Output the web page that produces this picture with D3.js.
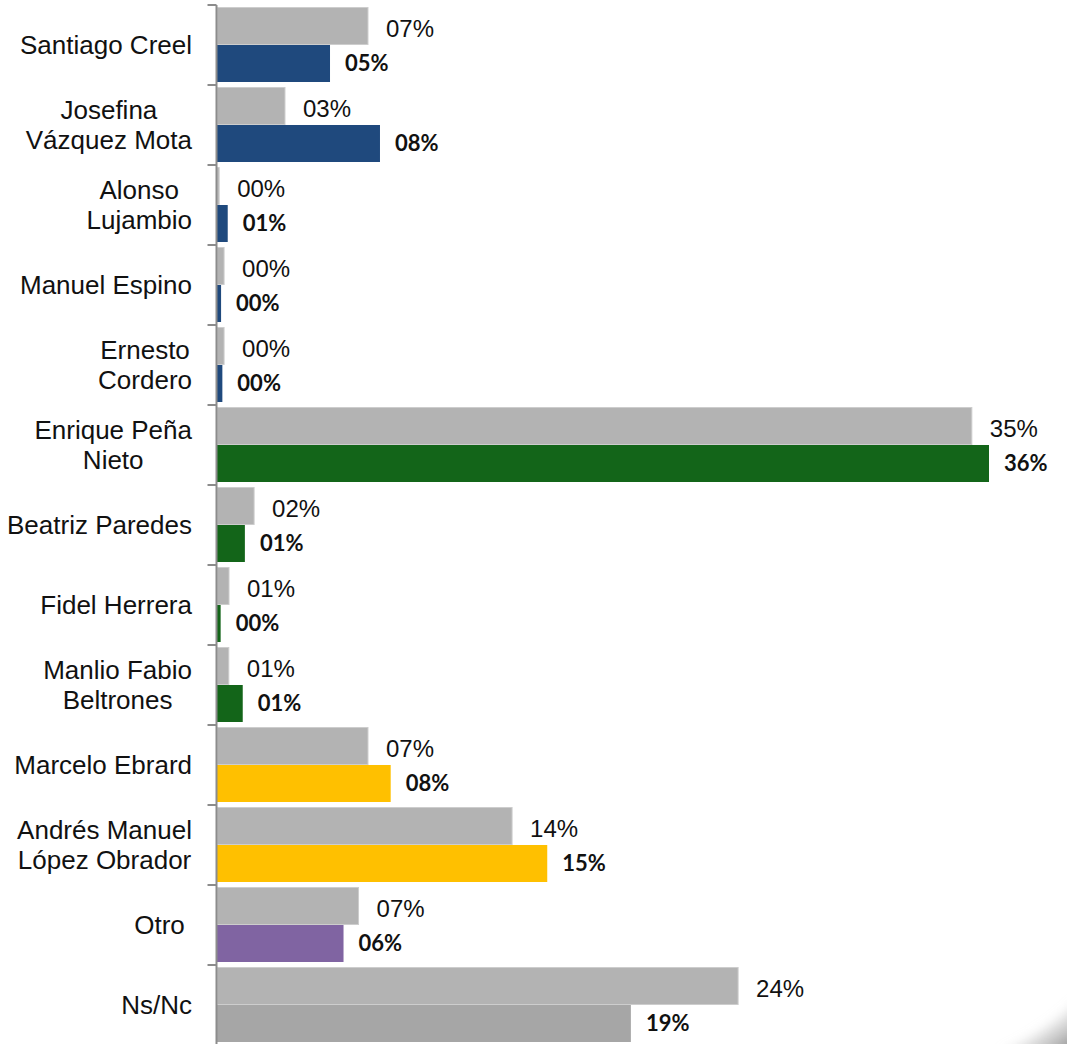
<!DOCTYPE html>
<html>
<head>
<meta charset="utf-8">
<script src="https://cdn.jsdelivr.net/npm/d3@7"></script>
<style>
  html, body { margin: 0; padding: 0; background: #fff; }
  svg { display: block; }
</style>
</head>
<body>
<svg id="chart" width="1067" height="1044"></svg>
<script>
// ---- data ----
const categories = [
  ["Santiago Creel"],
  ["Josefina", "Vázquez Mota"],
  ["Alonso", "Lujambio"],
  ["Manuel Espino"],
  ["Ernesto", "Cordero"],
  ["Enrique Peña", "Nieto"],
  ["Beatriz Paredes"],
  ["Fidel Herrera"],
  ["Manlio Fabio", "Beltrones"],
  ["Marcelo Ebrard"],
  ["Andrés Manuel", "López Obrador"],
  ["Otro "],
  ["Ns/Nc"]
];
const previousValues = [7.04, 3.17, 0.1, 0.33, 0.33, 35.2, 1.73, 0.56, 0.55, 7.04, 13.76, 6.6, 24.3];
const currentValues  = [5.27, 7.6, 0.5, 0.19, 0.25, 36.0, 1.3, 0.17, 1.2, 8.1, 15.4, 5.9, 19.3];
const currentColors  = ["#1f497d", "#1f497d", "#1f497d", "#1f497d", "#1f497d",
                        "#136519", "#136519", "#136519", "#136519",
                        "#ffc000", "#ffc000", "#8064a2", "#a6a6a6"];
const previousColor = "#b3b3b3";

// ---- layout ----
const svg = d3.select("#chart");
const axisX = 217;
const topY = 5, bandH = 80;

const y = d3.scaleBand()
  .domain(d3.range(categories.length))
  .range([topY, topY + bandH * categories.length])
  .paddingInner(0).paddingOuter(0);

const x = d3.scaleLinear().domain([0, 36]).range([axisX, 989]);

const fmt = v => d3.format("02d")(Math.round(v)) + "%";

// subtle page-curl shadow in the bottom-right corner
const defs = svg.append("defs");
defs.append("filter").attr("id", "blur")
  .attr("x", "-50%").attr("y", "-50%").attr("width", "200%").attr("height", "200%")
  .append("feGaussianBlur").attr("stdDeviation", 6);
const lg = defs.append("linearGradient").attr("id", "curl")
  .attr("x1", "0%").attr("y1", "0%").attr("x2", "100%").attr("y2", "100%");
lg.append("stop").attr("offset", "0%").attr("stop-color", "#fff").attr("stop-opacity", 0);
lg.append("stop").attr("offset", "60%").attr("stop-color", "#bbb").attr("stop-opacity", 0.5);
lg.append("stop").attr("offset", "100%").attr("stop-color", "#555").attr("stop-opacity", 0.9);
svg.append("path")
  .attr("d", "M1080,1000 C1060,1020 1040,1035 1000,1055 L1080,1055 Z")
  .attr("fill", "url(#curl)")
  .attr("filter", "url(#blur)");

const g = svg.append("g");

// previous (gray) bars
g.selectAll("rect.prev")
  .data(previousValues)
  .join("rect")
  .attr("class", "prev")
  .attr("x", x(0))
  .attr("y", (d, i) => y(i) + 2.5)
  .attr("width", d => x(d) - x(0))
  .attr("height", 37)
  .attr("fill", previousColor)
  .attr("stroke", "#cdcdcd")
  .attr("stroke-width", 1);

// current (colored) bars
g.selectAll("rect.cur")
  .data(currentValues)
  .join("rect")
  .attr("class", "cur")
  .attr("x", x(0))
  .attr("y", (d, i) => y(i) + 40)
  .attr("width", d => x(d) - x(0))
  .attr("height", 37)
  .attr("fill", (d, i) => currentColors[i]);

// value labels
g.selectAll("text.prevLbl")
  .data(previousValues)
  .join("text")
  .attr("class", "prevLbl")
  .attr("x", d => x(d) + 18)
  .attr("y", (d, i) => y(i) + 32)
  .attr("font-family", "'Liberation Sans', Arial, sans-serif")
  .attr("font-size", 24)
  .attr("fill", "#111")
  .text(fmt);

g.selectAll("text.curLbl")
  .data(currentValues)
  .join("text")
  .attr("class", "curLbl")
  .attr("x", d => x(d) + 15)
  .attr("y", (d, i) => y(i) + 66)
  .attr("font-family", "Lato, 'Open Sans', sans-serif")
  .attr("font-weight", 700)
  .attr("font-size", 22)
  .attr("fill", "#111")
  .text(fmt);

// axis
const axis = d3.axisLeft(y).tickSize(0).tickFormat("");
const axG = svg.append("g").attr("transform", `translate(${axisX - 0.5},0)`).call(axis);
axG.select(".domain").attr("stroke", "#8c8c8c").attr("stroke-width", 2)
  .attr("d", `M0,${topY}V${topY + bandH * categories.length}`);
// tick marks between categories
axG.selectAll("line.sep")
  .data(d3.range(categories.length + 1))
  .join("line")
  .attr("class", "sep")
  .attr("x1", -9).attr("x2", 0)
  .attr("y1", i => topY + i * bandH).attr("y2", i => topY + i * bandH)
  .attr("stroke", "#8c8c8c").attr("stroke-width", 2);

// category labels (multi-line, centred within block, block right-aligned)
const labelRight = 192;
const catG = svg.append("g");
categories.forEach((lines, i) => {
  const cy = y(i) + bandH / 2;
  const t = catG.append("text")
    .attr("font-family", "'Liberation Sans', Arial, sans-serif")
    .attr("font-size", 26)
    .attr("fill", "#111")
    .style("white-space", "pre")
    .attr("text-anchor", "middle");
  const spans = lines.map((ln, k) => t.append("tspan")
    .attr("y", cy + 9 + (k - (lines.length - 1) / 2) * 30)
    .text(ln));
  const maxW = d3.max(spans, s => s.node().getComputedTextLength());
  spans.forEach(s => s.attr("x", labelRight - maxW / 2));
});
</script>
</body>
</html>
